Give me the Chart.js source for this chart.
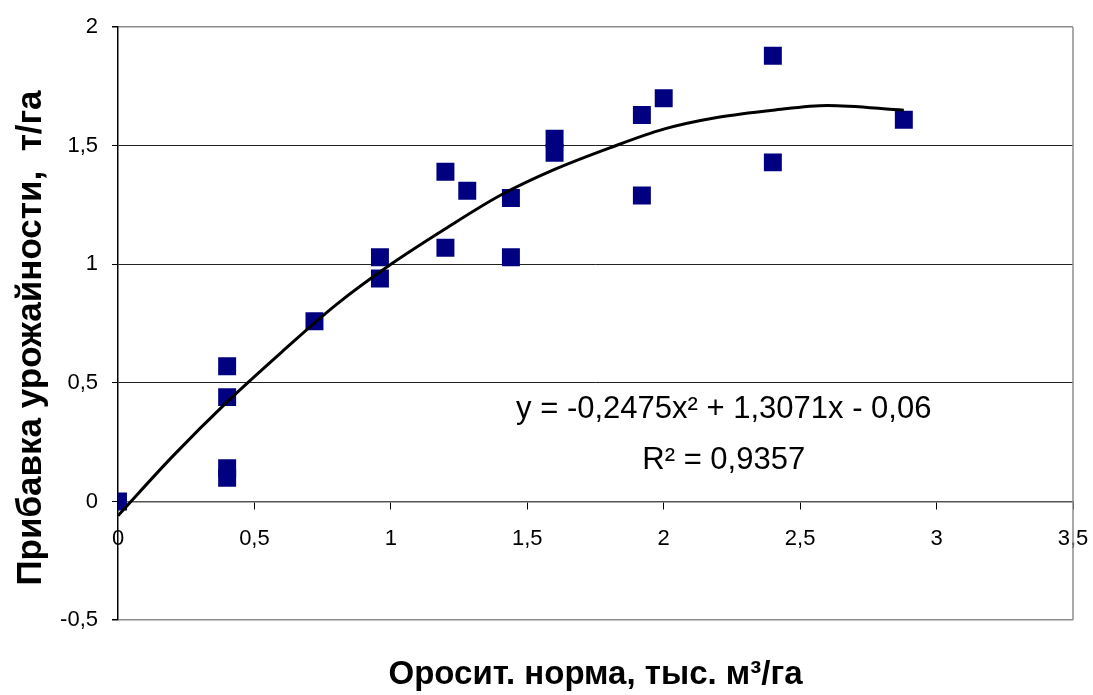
<!DOCTYPE html>
<html lang="ru">
<head>
  <meta charset="UTF-8">
  <title>Прибавка урожайности</title>
  <script src="https://cdn.jsdelivr.net/npm/chart.js@4.4.2/dist/chart.umd.min.js"></script>
  <style>
    html, body { margin: 0; padding: 0; background: #fff; }
    #wrap { width: 1093px; height: 695px; }
  </style>
</head>
<body>
<div id="wrap"><canvas id="chart" width="1093" height="695"></canvas></div>
<script>
  // observed points (x - irrigation rate, y - yield gain)
  const normX = [0, 0.4, 0.4, 0.4, 0.4, 0.72, 0.96, 0.96, 1.2, 1.2, 1.28, 1.44, 1.44, 1.6, 1.6, 1.92, 1.92, 2.0, 2.4, 2.4, 2.88];
  const gainY = [0, 0.57, 0.44, 0.14, 0.10, 0.76, 1.03, 0.94, 1.07, 1.39, 1.31, 1.28, 1.03, 1.53, 1.47, 1.63, 1.29, 1.70, 1.88, 1.43, 1.61];

  // trend line
  const trendX = [0, 0.2, 0.4, 0.6, 0.8, 1.0, 1.2, 1.4, 1.6, 1.8, 2.0, 2.2, 2.4, 2.6, 2.88];
  const trendY = [-0.06, 0.19, 0.42, 0.63, 0.83, 1.0, 1.15, 1.29, 1.40, 1.49, 1.57, 1.62, 1.65, 1.67, 1.65];

  const xTickLabels = ['0', '0,5', '1', '1,5', '2', '2,5', '3', '3,5'];
  const yTickLabels = ['-0,5', '0', '0,5', '1', '1,5', '2'];

  const xTitle = 'Оросит. норма, тыс. м³/га';
  const yTitle = 'Прибавка урожайности,  т/га';
  const eqText = 'y = -0,2475x² + 1,3071x - 0,06';
  const r2Text = 'R² = 0,9357';

  const FONT = "'Liberation Sans', Arial, sans-serif";

  const toPoints = (xs, ys) => xs.map((x, i) => ({ x: x, y: ys[i] }));

  // plot frame on the right, titles and equation
  const extras = {
    id: 'extras',
    beforeDatasetsDraw(chart) {
      const { ctx, chartArea } = chart;
      ctx.save();
      ctx.strokeStyle = '#8c8c8c';
      ctx.lineWidth = 1.5;
      ctx.beginPath();
      ctx.moveTo(chartArea.right, chartArea.top);
      ctx.lineTo(chartArea.right, chartArea.bottom);
      ctx.stroke();
      ctx.restore();
    },
    afterDraw(chart) {
      const { ctx, chartArea } = chart;
      const xs = chart.scales.x, ys = chart.scales.y;
      ctx.save();
      ctx.fillStyle = '#000';
      ctx.textAlign = 'center';
      ctx.textBaseline = 'alphabetic';

      ctx.font = 'bold 33px ' + FONT;
      ctx.fillText(xTitle, (chartArea.left + chartArea.right) / 2, 684);

      ctx.save();
      ctx.font = 'bold 35px ' + FONT;
      ctx.translate(41, 338);
      ctx.rotate(-Math.PI / 2);
      ctx.fillText(yTitle, 0, 0);
      ctx.restore();

      ctx.font = '31px ' + FONT;
      const cx = xs.getPixelForValue(2.22);
      ctx.fillText(eqText, cx, ys.getPixelForValue(0.352));
      ctx.fillText(r2Text, cx, ys.getPixelForValue(0.138));
      ctx.restore();
    }
  };

  new Chart(document.getElementById('chart'), {
    type: 'scatter',
    data: {
      datasets: [
        {
          type: 'line',
          label: 'trend',
          data: toPoints(trendX, trendY),
          borderColor: '#000',
          borderWidth: 3,
          pointRadius: 0,
          tension: 0.4,
          cubicInterpolationMode: 'monotone',
          fill: false
        },
        {
          label: 'data',
          data: toPoints(normX, gainY),
          pointStyle: 'rect',
          pointRadius: 12.7,
          pointBackgroundColor: '#000080',
          pointBorderWidth: 0,
          borderColor: '#000080'
        }
      ]
    },
    options: {
      responsive: false,
      animation: false,
      layout: { padding: { top: 24, right: 20, bottom: 75, left: 0 } },
      plugins: {
        legend: { display: false },
        tooltip: { enabled: false }
      },
      scales: {
        x: {
          type: 'linear',
          min: 0,
          max: 3.5,
          position: { y: 0 },
          afterFit: (s) => { s.paddingLeft = 0; s.paddingRight = 0; },
          ticks: {
            stepSize: 0.5,
            padding: 17,
            color: '#000',
            font: { family: FONT, size: 22 },
            maxRotation: 0,
            callback: (v, i) => xTickLabels[i]
          },
          grid: {
            drawOnChartArea: false,
            drawTicks: true,
            tickLength: 7,
            tickColor: '#000'
          },
          border: { color: '#555', width: 1.5 }
        },
        y: {
          type: 'linear',
          min: -0.5,
          max: 2,
          afterFit: (s) => { s.width = 118; },
          ticks: {
            stepSize: 0.5,
            padding: 14,
            color: '#000',
            font: { family: FONT, size: 22 },
            callback: (v, i) => yTickLabels[i]
          },
          grid: {
            color: (c) => (c.tick && (c.tick.value === 2 || c.tick.value === -0.5)) ? '#8c8c8c' : '#222',
            lineWidth: (c) => (c.tick && (c.tick.value === 2 || c.tick.value === -0.5)) ? 1.5 : 1,
            tickLength: 6,
            tickColor: '#000'
          },
          border: { color: '#000', width: 1.5 }
        }
      }
    },
    plugins: [extras]
  });
</script>
</body>
</html>
